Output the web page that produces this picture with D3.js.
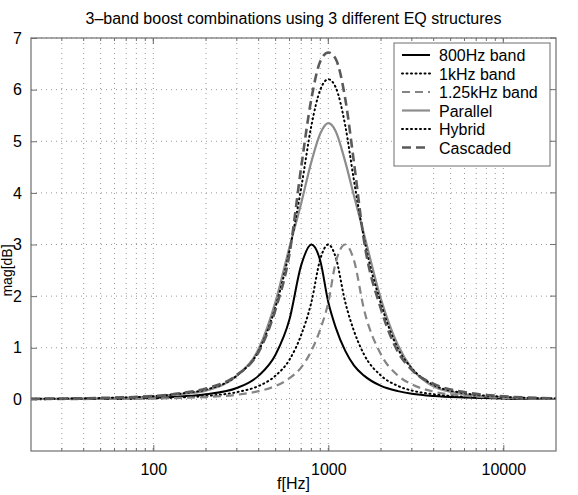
<!DOCTYPE html>
<html>
<head>
<meta charset="utf-8">
<script src="https://cdn.jsdelivr.net/npm/d3@7"></script>
<style>
  body { margin: 0; background: #fff; }
  svg text { font-family: "Liberation Sans", Arial, Helvetica, sans-serif; fill: #000; }
</style>
</head>
<body>
<svg id="chart" width="578" height="495"></svg>
<script>
// frequencies (Hz)
const freqs = [20, 50, 100, 150, 200, 300, 400, 500, 600, 700, 800, 900, 1000, 1100, 1250, 1400, 1600, 2000, 2500, 3000, 4000, 6000, 10000, 20000];

// magnitude in dB, one array per curve
const band800 = [0.005, 0.01, 0.03, 0.06, 0.1, 0.22, 0.46, 0.87, 1.55, 2.6, 3.0, 2.68, 1.88, 1.4, 0.94, 0.66, 0.46, 0.26, 0.16, 0.11, 0.065, 0.035, 0.015, 0.007];
const band1k = [0.004, 0.01, 0.02, 0.04, 0.065, 0.14, 0.26, 0.46, 0.77, 1.25, 1.88, 2.72, 3.0, 2.76, 1.88, 1.33, 0.87, 0.46, 0.26, 0.17, 0.1, 0.05, 0.02, 0.01];
const band1250 = [0.003, 0.008, 0.015, 0.03, 0.045, 0.09, 0.16, 0.26, 0.41, 0.62, 0.94, 1.36, 1.88, 2.64, 3.0, 2.7, 1.74, 0.87, 0.46, 0.29, 0.15, 0.07, 0.03, 0.01];
const parallel = [0.008, 0.022, 0.055, 0.11, 0.17, 0.46, 0.98, 1.9, 2.95, 3.8, 4.6, 5.15, 5.35, 5.2, 4.6, 3.95, 3.2, 1.94, 1.05, 0.6, 0.25, 0.1, 0.04, 0.012];
const hybrid = [0.01, 0.025, 0.06, 0.12, 0.19, 0.46, 0.94, 1.8, 2.88, 4.1, 5.3, 6.0, 6.2, 6.05, 5.3, 4.25, 3.12, 1.85, 0.98, 0.6, 0.28, 0.12, 0.05, 0.016];
const cascaded = [0.012, 0.028, 0.065, 0.13, 0.21, 0.47, 0.92, 1.75, 2.82, 4.5, 5.82, 6.55, 6.72, 6.6, 5.82, 4.6, 3.07, 1.75, 0.92, 0.57, 0.3, 0.14, 0.06, 0.02];

const seriesNames = ["800Hz band", "1kHz band", "1.25kHz band", "Parallel", "Hybrid", "Cascaded"];
const seriesValues = [band800, band1k, band1250, parallel, hybrid, cascaded];

const yTicks = [0, 1, 2, 3, 4, 5, 6, 7];
const xTickLabels = [100, 1000, 10000];

// line styles, same order as seriesNames
const styles = [
  { color: "#000", width: 2, dash: null },
  { color: "#000", width: 2, dash: "1,3.5", cap: "round" },
  { color: "#858585", width: 2.2, dash: "8,5" },
  { color: "#8c8c8c", width: 2.2, dash: null },
  { color: "#000", width: 2, dash: "1,3.5", cap: "round" },
  { color: "#5a5a5a", width: 2.6, dash: "9,5" }
];

const margin = { left: 31, right: 22, top: 38, bottom: 44 };
const W = 578, H = 495;
const width = W - margin.left - margin.right;
const height = H - margin.top - margin.bottom;

const svg = d3.select("#chart");
const g = svg.append("g").attr("transform", `translate(${margin.left}, ${margin.top})`);

const x = d3.scaleLog().domain([20, 20000]).range([0, width]);
const y = d3.scaleLinear().domain([-1, 7]).range([height, 0]);

// minor positions for the log grid
const minor = [];
for (let dec = 10; dec <= 10000; dec *= 10) {
  for (let k = 1; k <= 9; k++) {
    const v = dec * k;
    if (v > 20 && v < 20000) minor.push(v);
  }
}

// grid
g.append("g")
  .selectAll("line")
  .data(minor)
  .join("line")
  .attr("x1", (d) => x(d))
  .attr("x2", (d) => x(d))
  .attr("y1", 0)
  .attr("y2", height)
  .attr("stroke", "#999")
  .attr("stroke-width", 1)
  .attr("stroke-dasharray", "1,4");

g.append("g")
  .selectAll("line")
  .data(yTicks)
  .join("line")
  .attr("x1", 0)
  .attr("x2", width)
  .attr("y1", (d) => y(d))
  .attr("y2", (d) => y(d))
  .attr("stroke", "#999")
  .attr("stroke-width", 1)
  .attr("stroke-dasharray", "1,4");

// curves
svg.append("clipPath").attr("id", "clip")
  .append("rect").attr("width", width).attr("height", height);

const line = d3.line()
  .x((d) => x(d.f))
  .y((d) => y(d.v))
  .curve(d3.curveMonotoneX);

const curves = g.append("g").attr("clip-path", "url(#clip)");
seriesValues.forEach((vals, i) => {
  const data = freqs.map((f, j) => ({ f: f, v: vals[j] }));
  const s = styles[i];
  curves.append("path")
    .datum(data)
    .attr("fill", "none")
    .attr("stroke", s.color)
    .attr("stroke-width", s.width)
    .attr("stroke-dasharray", s.dash)
    .attr("stroke-linecap", s.cap || "butt")
    .attr("d", line);
});

// axes (ticks inside, box on)
const axisColor = "#6e6e6e";
const xAxis = d3.axisBottom(x).tickValues(xTickLabels).tickFormat(d3.format("d")).tickSizeInner(-6).tickSizeOuter(0).tickPadding(13);
const xAxisG = g.append("g").attr("transform", `translate(0, ${height})`).call(xAxis);
const yAxis = d3.axisLeft(y).tickValues(yTicks).tickSizeInner(-6).tickSizeOuter(0).tickPadding(9);
const yAxisG = g.append("g").call(yAxis);

[xAxisG, yAxisG].forEach((a) => {
  a.select(".domain").remove();
  a.selectAll(".tick line").attr("stroke", axisColor);
  a.selectAll(".tick text").style("font-size", "16px").attr("fill", "#000");
});

// minor ticks bottom and top, right-side ticks
g.append("g").selectAll("line").data(minor).join("line")
  .attr("x1", (d) => x(d)).attr("x2", (d) => x(d))
  .attr("y1", height).attr("y2", height - 3)
  .attr("stroke", axisColor);
g.append("g").selectAll("line").data(minor).join("line")
  .attr("x1", (d) => x(d)).attr("x2", (d) => x(d))
  .attr("y1", 0).attr("y2", 3)
  .attr("stroke", axisColor);
g.append("g").selectAll("line").data(xTickLabels).join("line")
  .attr("x1", (d) => x(d)).attr("x2", (d) => x(d))
  .attr("y1", 0).attr("y2", 6)
  .attr("stroke", axisColor);
g.append("g").selectAll("line").data(yTicks).join("line")
  .attr("x1", width).attr("x2", width - 6)
  .attr("y1", (d) => y(d)).attr("y2", (d) => y(d))
  .attr("stroke", axisColor);

g.append("rect")
  .attr("width", width)
  .attr("height", height)
  .attr("fill", "none")
  .attr("stroke", axisColor)
  .attr("stroke-width", 1.2);

// title and labels
svg.append("text")
  .attr("x", margin.left + width / 2)
  .attr("y", 24)
  .attr("text-anchor", "middle")
  .style("font-size", "16px")
  .text("3\u2013band boost combinations using 3 different EQ structures");

svg.append("text")
  .attr("x", margin.left + width / 2)
  .attr("y", 489)
  .attr("text-anchor", "middle")
  .style("font-size", "16px")
  .text("f[Hz]");

svg.append("text")
  .attr("transform", `translate(12, ${margin.top + height / 2 + 26}) rotate(-90)`)
  .attr("text-anchor", "middle")
  .style("font-size", "14px")
  .text("mag[dB]");

// legend
const legX = 394, legY = 43, legW = 156, rowH = 18.5;
const leg = svg.append("g").attr("transform", `translate(${legX}, ${legY})`);
leg.append("rect")
  .attr("width", legW)
  .attr("height", 12 + rowH * seriesNames.length)
  .attr("fill", "#fff")
  .attr("stroke", axisColor)
  .attr("stroke-width", 1);

const rows = leg.selectAll("g.row")
  .data(seriesNames)
  .join("g")
  .attr("class", "row")
  .attr("transform", (d, i) => `translate(0, ${12 + rowH * i})`);

rows.append("line")
  .attr("x1", 8).attr("x2", 36)
  .attr("y1", 0).attr("y2", 0)
  .attr("stroke", (d, i) => styles[i].color)
  .attr("stroke-width", (d, i) => styles[i].width)
  .attr("stroke-dasharray", (d, i) => styles[i].dash)
  .attr("stroke-linecap", (d, i) => styles[i].cap || "butt");

rows.append("text")
  .attr("x", 45)
  .attr("y", 6)
  .style("font-size", "16px")
  .text((d) => d);
</script>
</body>
</html>
